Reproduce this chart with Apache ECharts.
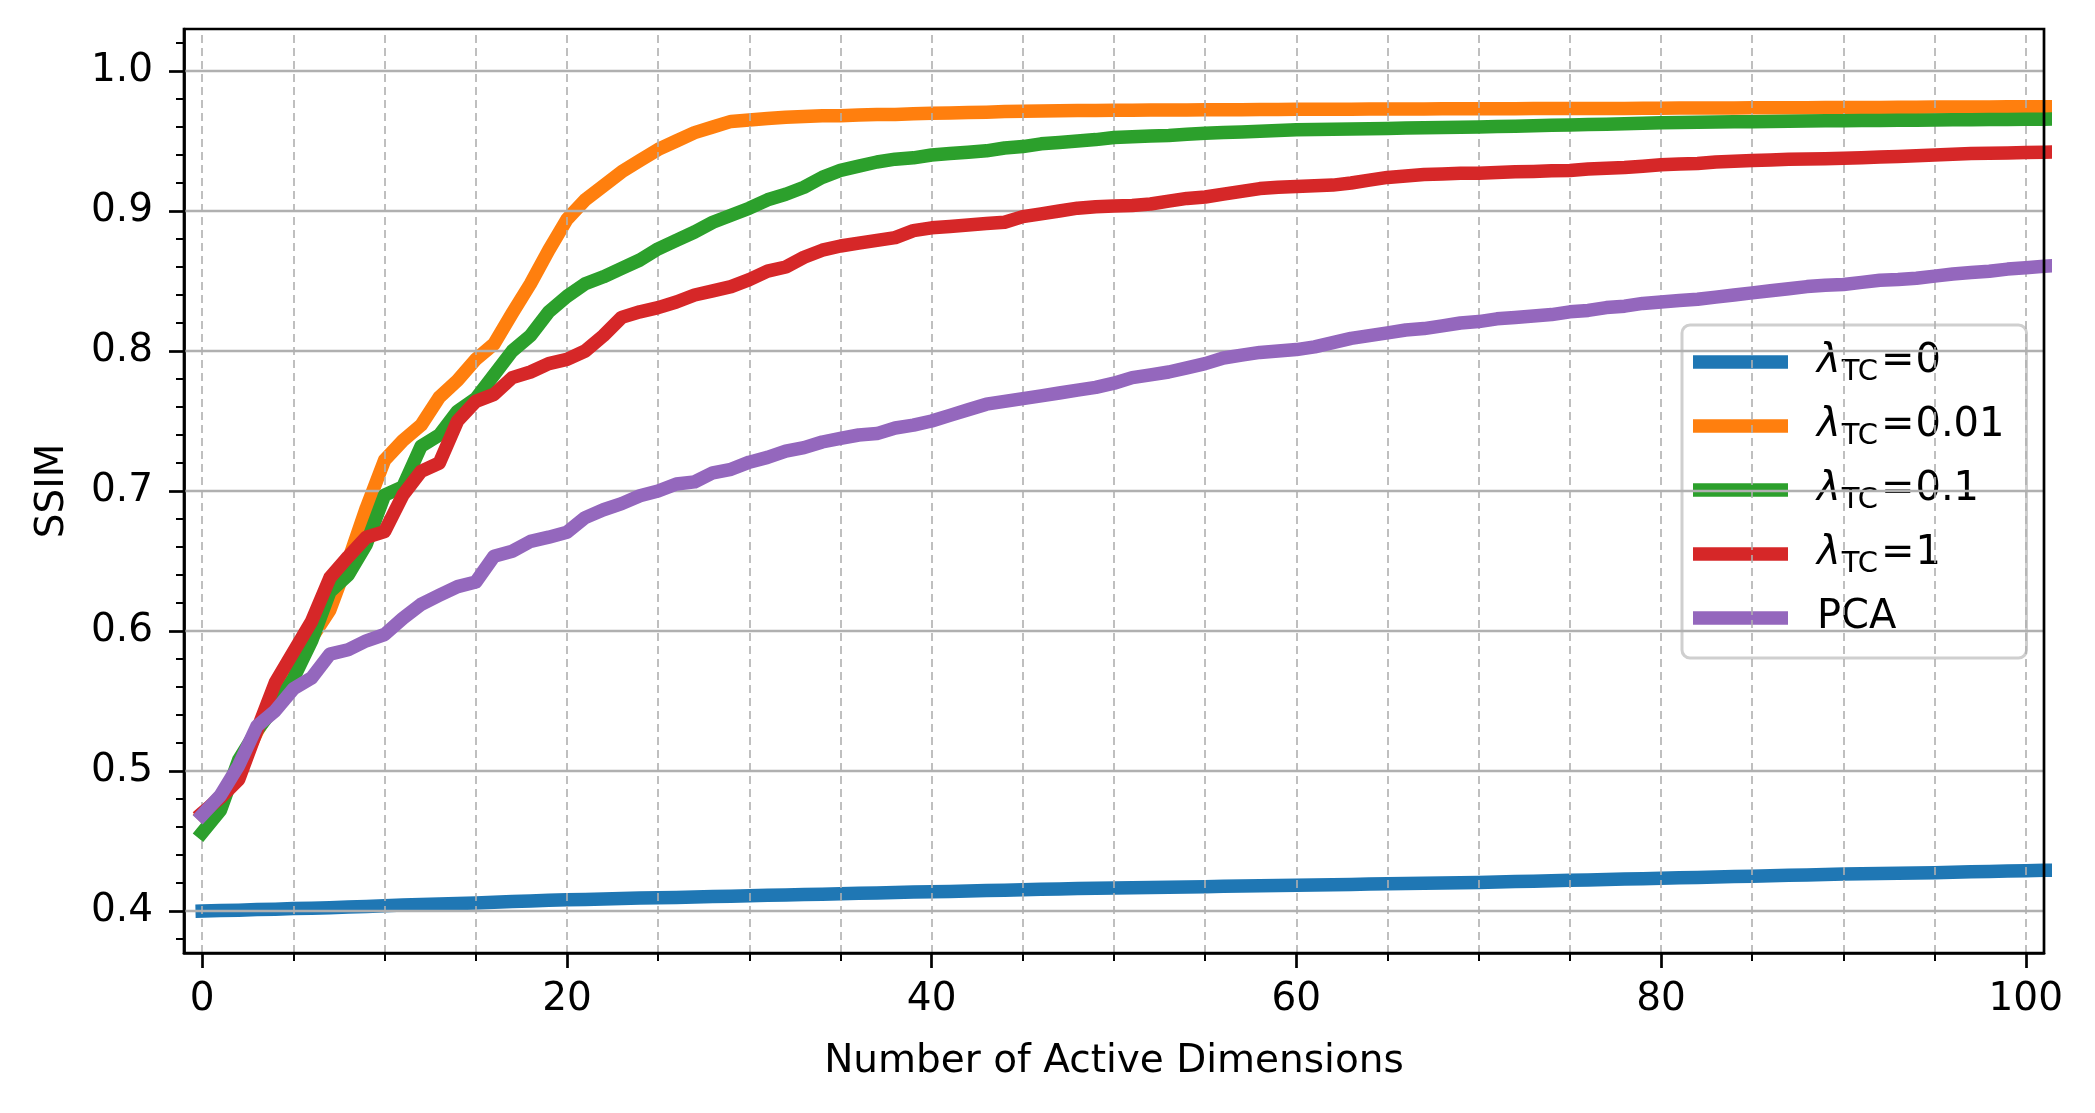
<!DOCTYPE html>
<html><head><meta charset="utf-8">
<script src="https://cdn.jsdelivr.net/npm/echarts@6/dist/echarts.min.js"></script>
<style>html,body{margin:0;padding:0;background:#fff}#c{width:2095px;height:1113px}</style>
</head><body><div id="c"></div>
<script>
// Number of active dimensions (x); the curves run on past the right edge of the axes
const dims = Array.from({length: 103}, (_, i) => i);

const seriesNames = ['λTC=0', 'λTC=0.01', 'λTC=0.1', 'λTC=1', 'PCA'];
const seriesColors = ['#1f77b4', '#ff7f0e', '#2ca02c', '#d62728', '#9467bd'];

const ssimTC0 = [
0.400,0.4003,0.4006,0.401,0.4013,0.4017,0.402,0.4024,0.4028,0.4033,
0.4038,0.4042,0.4047,0.405,0.4054,0.4058,0.4063,0.4067,0.4071,0.4076,
0.408,0.4083,0.4086,0.4089,0.4092,0.4094,0.4097,0.41,0.4103,0.4106,
0.4109,0.4112,0.4115,0.4118,0.412,0.4123,0.4126,0.4129,0.4132,0.4135,
0.4138,0.414,0.4143,0.4146,0.4149,0.4152,0.4155,0.4158,0.416,0.4162,
0.4164,0.4166,0.4168,0.417,0.4172,0.4174,0.4176,0.4178,0.418,0.4182,
0.4184,0.4186,0.4188,0.419,0.4192,0.4194,0.4196,0.4198,0.42,0.4202,
0.4204,0.4207,0.421,0.4213,0.4216,0.4219,0.4222,0.4225,0.4228,0.4231,
0.4234,0.4237,0.424,0.4243,0.4246,0.4249,0.4252,0.4255,0.4258,0.4261,
0.4264,0.4266,0.4268,0.427,0.4272,0.4274,0.4277,0.428,0.4283,0.4285,
0.4288,0.4291,0.4293];

const ssimTC001 = [
0.469,0.482,0.500,0.528,0.550,0.572,0.595,0.615,0.650,0.688,
0.722,0.736,0.747,0.767,0.779,0.794,0.805,0.827,0.848,0.872,
0.894,0.908,0.918,0.928,0.936,0.944,0.950,0.956,0.960,0.964,
0.965,0.966,0.967,0.9675,0.968,0.968,0.9685,0.969,0.969,0.9695,
0.9698,0.970,0.9703,0.9706,0.971,0.9712,0.9714,0.9716,0.9717,0.9718,
0.9719,0.972,0.9721,0.9722,0.9722,0.9723,0.9724,0.9724,0.9725,0.9725,
0.9726,0.9726,0.9727,0.9727,0.9728,0.9728,0.9729,0.9729,0.973,0.973,
0.973,0.9731,0.9731,0.9732,0.9732,0.9732,0.9733,0.9733,0.9733,0.9734,
0.9734,0.9735,0.9735,0.9736,0.9736,0.9737,0.9737,0.9738,0.9738,0.9739,
0.9739,0.974,0.974,0.9741,0.9741,0.9742,0.9742,0.9743,0.9743,0.9744,
0.9745,0.9745,0.9746];

const ssimTC01 = [
0.456,0.472,0.508,0.529,0.546,0.566,0.593,0.628,0.640,0.662,
0.697,0.703,0.732,0.740,0.757,0.766,0.783,0.800,0.811,0.828,
0.839,0.848,0.853,0.859,0.865,0.873,0.879,0.885,0.892,0.897,
0.902,0.908,0.912,0.917,0.924,0.929,0.932,0.935,0.937,0.938,
0.940,0.941,0.942,0.943,0.945,0.946,0.948,0.949,0.950,0.951,
0.9525,0.953,0.9535,0.954,0.9548,0.9555,0.956,0.9565,0.957,0.9575,
0.958,0.9582,0.9584,0.9586,0.9588,0.959,0.9592,0.9594,0.9596,0.9598,
0.960,0.9603,0.9606,0.9609,0.9612,0.9614,0.9617,0.962,0.9623,0.9626,
0.963,0.9632,0.9634,0.9635,0.9637,0.9638,0.964,0.9641,0.9642,0.9644,
0.9645,0.9646,0.9647,0.9648,0.9649,0.965,0.9651,0.9652,0.9653,0.9654,
0.9655,0.9656,0.9657];

const ssimTC1 = [
0.470,0.481,0.494,0.529,0.563,0.585,0.607,0.638,0.653,0.667,
0.671,0.697,0.714,0.720,0.750,0.764,0.769,0.781,0.785,0.791,
0.794,0.800,0.811,0.824,0.828,0.831,0.835,0.840,0.843,0.846,
0.851,0.857,0.860,0.867,0.872,0.875,0.877,0.879,0.881,0.886,
0.888,0.889,0.890,0.891,0.892,0.896,0.898,0.900,0.902,0.903,
0.9035,0.904,0.905,0.907,0.909,0.910,0.912,0.914,0.916,0.917,
0.9175,0.918,0.9185,0.920,0.922,0.924,0.925,0.926,0.9265,0.927,
0.927,0.9275,0.928,0.9283,0.9287,0.929,0.930,0.9305,0.931,0.932,
0.933,0.9335,0.934,0.935,0.9355,0.936,0.9365,0.937,0.9372,0.9374,
0.9376,0.938,0.9385,0.939,0.9395,0.940,0.9405,0.941,0.9412,0.9415,
0.9418,0.942,0.9422];

const ssimPCA = [
0.4686,0.4826,0.504,0.532,0.543,0.5587,0.5665,0.5835,0.5866,0.593,
0.5975,0.609,0.619,0.6255,0.6317,0.635,0.6534,0.657,0.664,0.667,
0.6705,0.681,0.6866,0.691,0.6966,0.700,0.705,0.7065,0.713,0.7155,
0.7206,0.724,0.7285,0.731,0.735,0.7376,0.740,0.741,0.745,0.747,
0.750,0.754,0.758,0.762,0.764,0.766,0.768,0.770,0.772,0.774,
0.777,0.781,0.783,0.785,0.788,0.791,0.795,0.797,0.799,0.800,
0.801,0.803,0.806,0.809,0.811,0.813,0.815,0.816,0.818,0.820,
0.821,0.823,0.824,0.825,0.826,0.828,0.829,0.831,0.832,0.834,
0.835,0.836,0.837,0.8385,0.840,0.8415,0.843,0.8445,0.846,0.847,
0.8475,0.849,0.8505,0.851,0.852,0.8535,0.855,0.856,0.857,0.8585,
0.8595,0.8605,0.8615];

const xMajorTicks = [0, 20, 40, 60, 80, 100];
const xMinorTicks = [5,10,15,25,30,35,45,50,55,65,70,75,85,90,95];
const xGridLines = [0,5,10,15,20,25,30,35,40,45,50,55,60,65,70,75,80,85,90,95,100];
const yMajorTicks = [0.4, 0.5, 0.6, 0.7, 0.8, 0.9, 1.0];
const yMinorTicks = [0.38,0.42,0.44,0.46,0.48,0.52,0.54,0.56,0.58,0.62,0.64,0.66,0.68,0.72,0.74,0.76,0.78,0.82,0.84,0.86,0.88,0.92,0.94,0.96,0.98,1.02];

const allSeries = [ssimTC0, ssimTC001, ssimTC01, ssimTC1, ssimPCA];

const FONT = 'DejaVu Sans';
const chart = echarts.init(document.getElementById('c'), null, {renderer: 'canvas'});

const gridSeries = {
  type: 'line', name: '__grid', data: [], z: 1, silent: true,
  markLine: {
    silent: true, symbol: ['none', 'none'], label: {show: false}, animation: false,
    data: [
      ...xGridLines.map(v => ({xAxis: v, lineStyle: {color: '#b0b0b0', width: 1.6, type: [8, 5]}})),
      ...yMajorTicks.map(v => ({yAxis: v, lineStyle: {color: '#b0b0b0', width: 2.3, type: 'solid'}}))
    ]
  }
};

const lineSeries = allSeries.map((vals, k) => ({
  type: 'line', name: seriesNames[k], z: 3 + k,
  data: dims.map((d, i) => [d, vals[i]]),
  showSymbol: false, symbol: 'none', clip: true,
  lineStyle: {color: seriesColors[k], width: 13.5, join: 'round', cap: 'square'},
  itemStyle: {color: seriesColors[k]},
  animation: false
}));

chart.setOption({
  backgroundColor: '#fff',
  animation: false,
  grid: {left: 184, top: 29, right: 51, bottom: 160, show: true, borderColor: '#000', borderWidth: 2.7, backgroundColor: 'transparent', z: 10},
  xAxis: [{
    type: 'value', min: -1, max: 101, position: 'bottom',
    name: 'Number of Active Dimensions', nameLocation: 'middle', nameGap: 89,
    nameTextStyle: {fontFamily: FONT, fontSize: 39, color: '#000'},
    axisLine: {show: true, onZero: false, lineStyle: {color: '#000', width: 2.7}},
    axisTick: {show: true, customValues: xMajorTicks, length: 15, lineStyle: {color: '#000', width: 2.7}},
    axisLabel: {show: true, customValues: xMajorTicks, margin: 27, fontFamily: FONT, fontSize: 39, color: '#000'},
    splitLine: {show: false}
  }, {
    type: 'value', min: -1, max: 101, position: 'bottom',
    axisLine: {show: false, onZero: false},
    axisTick: {show: true, customValues: xMinorTicks, length: 8, lineStyle: {color: '#000', width: 2}},
    axisLabel: {show: false},
    splitLine: {show: false}
  }],
  yAxis: [{
    type: 'value', min: 0.37, max: 1.03, position: 'left',
    name: 'SSIM', nameLocation: 'middle', nameGap: 112, nameRotate: 90,
    nameTextStyle: {fontFamily: FONT, fontSize: 39, color: '#000'},
    axisLine: {show: true, onZero: false, lineStyle: {color: '#000', width: 2.7}},
    axisTick: {show: true, customValues: yMajorTicks, length: 15, lineStyle: {color: '#000', width: 2.7}},
    axisLabel: {show: true, customValues: yMajorTicks, margin: 31, fontFamily: FONT, fontSize: 39, color: '#000',
      formatter: v => Number(v).toFixed(1)},
    splitLine: {show: false}
  }, {
    type: 'value', min: 0.37, max: 1.03, position: 'left',
    axisLine: {show: false, onZero: false},
    axisTick: {show: true, customValues: yMinorTicks, length: 8, lineStyle: {color: '#000', width: 2}},
    axisLabel: {show: false},
    splitLine: {show: false}
  }],
  legend: {
    data: seriesNames,
    orient: 'vertical', left: 1682, top: 325,
    padding: [12, 22, 15, 11], itemGap: 14,
    itemWidth: 95, itemHeight: 13.5, icon: 'rect',
    backgroundColor: 'rgba(255,255,255,0.8)', borderColor: '#cfcfcf', borderWidth: 3, borderRadius: 8,
    selectedMode: false,
    formatter: name => {
      if (name === 'PCA') return '{n|PCA}';
      const val = name.split('=')[1];
      return '{l|λ}{s|TC}{e|=}{n|' + val + '}';
    },
    textStyle: {
      fontFamily: FONT, fontSize: 40, color: '#000', padding: [0, 0, 0, 24], lineHeight: 50,
      rich: {
        l: {fontFamily: FONT, fontSize: 40, fontStyle: 'italic', color: '#000', lineHeight: 50, padding: [0, 1, 0, 0]},
        s: {fontFamily: FONT, fontSize: 29, color: '#000', lineHeight: 34, verticalAlign: 'bottom', padding: [0, 3, 0, 0]},
        e: {fontFamily: FONT, fontSize: 40, color: '#000', lineHeight: 50, padding: [0, 1, 0, 0]},
        n: {fontFamily: FONT, fontSize: 40, color: '#000', lineHeight: 50}
      }
    }
  },
  series: [gridSeries, ...lineSeries]
});
</script>
</body></html>
